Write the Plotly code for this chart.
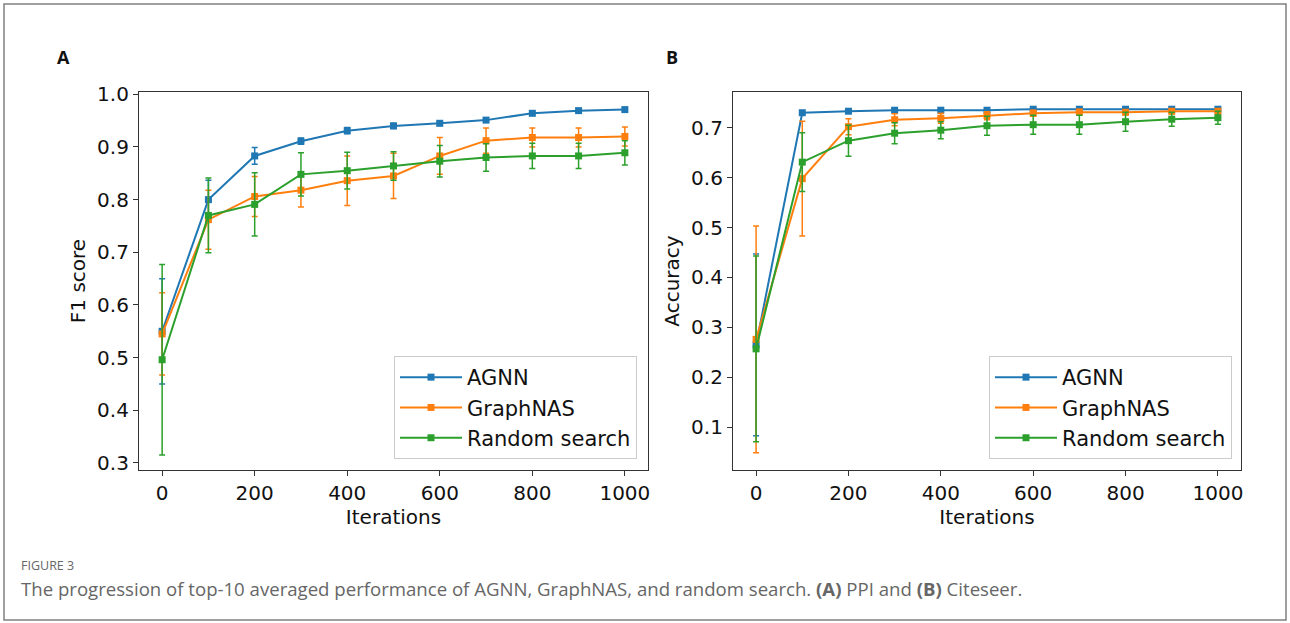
import plotly.graph_objects as go

iterations = [0, 100, 200, 300, 400, 500, 600, 700, 800, 900, 1000]
series_names = ["AGNN", "GraphNAS", "Random search"]
colors = ["#1f77b4", "#ff7f0e", "#2ca02c"]

# Panel A: PPI, F1 score
ppi_agnn = [0.550, 0.800, 0.883, 0.911, 0.931, 0.940, 0.945, 0.951, 0.964, 0.969, 0.971]
ppi_agnn_err = [0.100, 0.037, 0.016, 0.006, 0.006, 0.005, 0.004, 0.004, 0.004, 0.003, 0.003]
ppi_graphnas = [0.545, 0.762, 0.806, 0.818, 0.836, 0.845, 0.883, 0.912, 0.918, 0.918, 0.920]
ppi_graphnas_err = [0.078, 0.056, 0.038, 0.032, 0.047, 0.043, 0.035, 0.024, 0.018, 0.018, 0.018]
ppi_random = [0.496, 0.770, 0.791, 0.848, 0.855, 0.864, 0.873, 0.880, 0.883, 0.883, 0.889]
ppi_random_err = [0.181, 0.071, 0.060, 0.041, 0.035, 0.027, 0.030, 0.026, 0.024, 0.024, 0.023]

# Panel B: Citeseer, Accuracy
cs_agnn = [0.265, 0.730, 0.733, 0.735, 0.735, 0.735, 0.737, 0.737, 0.737, 0.737, 0.737]
cs_agnn_err = [0.182, 0.004, 0.003, 0.003, 0.003, 0.003, 0.003, 0.003, 0.003, 0.003, 0.003]
cs_graphnas = [0.276, 0.598, 0.702, 0.716, 0.719, 0.724, 0.729, 0.731, 0.731, 0.733, 0.733]
cs_graphnas_err = [0.227, 0.115, 0.016, 0.012, 0.010, 0.008, 0.006, 0.006, 0.005, 0.005, 0.005]
cs_random = [0.257, 0.631, 0.674, 0.689, 0.695, 0.704, 0.706, 0.706, 0.712, 0.717, 0.720]
cs_random_err = [0.186, 0.059, 0.031, 0.021, 0.017, 0.019, 0.019, 0.019, 0.019, 0.014, 0.013]

x_ticks = [0, 200, 400, 600, 800, 1000]
ppi_yticks = [0.3, 0.4, 0.5, 0.6, 0.7, 0.8, 0.9, 1.0]
cs_yticks = [0.1, 0.2, 0.3, 0.4, 0.5, 0.6, 0.7]

caption_label = "FIGURE 3"
caption_text = ("The progression of top-10 averaged performance of AGNN, GraphNAS, and random search. "
                "<b>(A)</b> PPI and <b>(B)</b> Citeseer.")

W, H = 1290, 623
FONT = "DejaVu Sans"

fig = go.Figure()

panels = [
    ("x", "y", "legend", [ppi_agnn, ppi_graphnas, ppi_random], [ppi_agnn_err, ppi_graphnas_err, ppi_random_err]),
    ("x2", "y2", "legend2", [cs_agnn, cs_graphnas, cs_random], [cs_agnn_err, cs_graphnas_err, cs_random_err]),
]
for xa, ya, leg, means, errs in panels:
    for name, col, m, e in zip(series_names, colors, means, errs):
        fig.add_trace(go.Scatter(
            x=iterations, y=m, name=name, mode="lines+markers",
            xaxis=xa, yaxis=ya, legend=leg,
            line=dict(color=col, width=2),
            marker=dict(symbol="square", size=7, color=col),
            error_y=dict(type="data", array=e, visible=True, color=col, thickness=1.5, width=3),
        ))

def px_x(p):
    return p / W

def px_y(p):
    return 1 - p / H

axis_common = dict(
    showline=True, mirror=True, linecolor="#333333", linewidth=1.2,
    ticks="outside", ticklen=5, tickwidth=1, tickcolor="#333333",
    showgrid=False, zeroline=False, automargin=False,
    tickfont=dict(family=FONT, size=20, color="#111111"),
    title_font=dict(family=FONT, size=20, color="#111111"),
)

legend_common = dict(
    xanchor="right", yanchor="bottom",
    bgcolor="white", bordercolor="#cccccc", borderwidth=1,
    font=dict(family=FONT, size=21, color="#111111"), tracegroupgap=2,
    itemwidth=62,
)

fig.update_layout(
    width=W, height=H,
    margin=dict(l=0, r=0, t=0, b=0, pad=0, autoexpand=False),
    paper_bgcolor="white", plot_bgcolor="white",
    font=dict(family=FONT, color="#111111"),
    xaxis=dict(domain=[px_x(139), px_x(648)], range=[-50, 1050], tickvals=x_ticks,
               title=dict(text="Iterations", standoff=2), anchor="y", **axis_common),
    yaxis=dict(domain=[px_y(470), px_y(92)], range=[0.2866, 1.0044], tickvals=ppi_yticks,
               tickformat=".1f", title=dict(text="F1 score", standoff=6), anchor="x", **axis_common),
    xaxis2=dict(domain=[px_x(733), px_x(1241)], range=[-50, 1050], tickvals=x_ticks,
                title=dict(text="Iterations", standoff=2), anchor="y2", **axis_common),
    yaxis2=dict(domain=[px_y(470), px_y(92)], range=[0.0143, 0.7715], tickvals=cs_yticks,
                tickformat=".1f", title=dict(text="Accuracy", standoff=6), anchor="x2", **axis_common),
    legend=dict(x=px_x(637), y=px_y(459), **legend_common),
    legend2=dict(x=px_x(1232), y=px_y(459), **legend_common),
    shapes=[dict(type="rect", xref="paper", yref="paper",
                 x0=px_x(4), x1=px_x(1286), y0=px_y(620), y1=px_y(4),
                 line=dict(color="#808080", width=1.5), fillcolor="rgba(0,0,0,0)")],
    annotations=[
        dict(text="<b>A</b>", x=px_x(55), y=px_y(57), xref="paper", yref="paper",
             xanchor="left", yanchor="middle", showarrow=False,
             font=dict(family="Open Sans", size=18, color="#111111")),
        dict(text="<b>B</b>", x=px_x(664), y=px_y(57), xref="paper", yref="paper",
             xanchor="left", yanchor="middle", showarrow=False,
             font=dict(family="Open Sans", size=18, color="#111111")),
        dict(text=caption_label, x=px_x(19), y=px_y(565), xref="paper", yref="paper",
             xanchor="left", yanchor="middle", showarrow=False,
             font=dict(family="Open Sans", size=12.5, color="#666666")),
        dict(text=caption_text, x=px_x(19), y=px_y(588), xref="paper", yref="paper",
             xanchor="left", yanchor="middle", showarrow=False,
             font=dict(family="Open Sans", size=18.6, color="#666666")),
    ],
)

post = (
    "document.documentElement.style.margin='0';"
    "document.documentElement.style.padding='0';"
    "document.documentElement.style.overflow='hidden';"
    "document.body.style.margin='0';"
    "document.body.style.padding='0';"
    "document.body.style.overflow='hidden';"
    "var g=document.querySelector('.plotly-graph-div');"
    "if(g){g.style.position='fixed';g.style.top='0px';g.style.left='0px';}"
)

fig.write_html("out.html", config={"displayModeBar": False}, post_script=post)
